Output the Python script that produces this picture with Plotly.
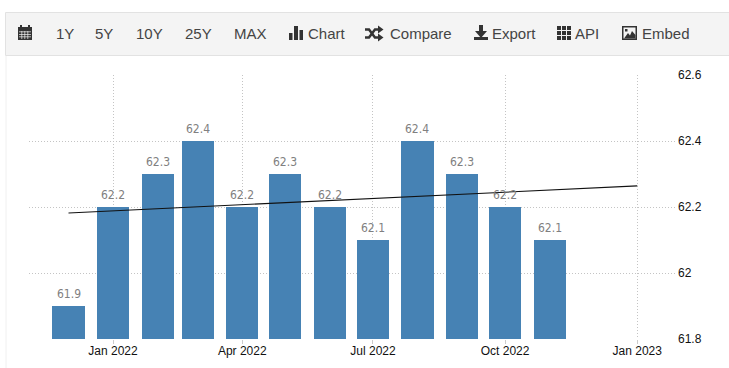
import plotly.graph_objects as go

W, H = 729, 368

months = ["2021-12-01", "2022-01-01", "2022-02-01", "2022-03-01", "2022-04-01", "2022-05-01",
          "2022-06-01", "2022-07-01", "2022-08-01", "2022-09-01", "2022-10-01", "2022-11-01"]
values = [61.9, 62.2, 62.3, 62.4, 62.2, 62.3, 62.2, 62.1, 62.4, 62.3, 62.2, 62.1]
value_labels = ["61.9", "62.2", "62.3", "62.4", "62.2", "62.3", "62.2", "62.1", "62.4", "62.3", "62.2", "62.1"]

trend_dates = ["2021-12-01", "2023-01-01"]
trend_values = [62.182, 62.264]

x_ticks = ["2022-01-01", "2022-04-01", "2022-07-01", "2022-10-01", "2023-01-01"]
x_tick_labels = ["Jan 2022", "Apr 2022", "Jul 2022", "Oct 2022", "Jan 2023"]
y_ticks = [61.8, 62, 62.2, 62.4, 62.6]
y_tick_labels = ["61.8", "62", "62.2", "62.4", "62.6"]

toolbar_labels = ["1Y", "5Y", "10Y", "25Y", "MAX", "Chart", "Compare", "Export", "API", "Embed"]
toolbar_x = [54, 93, 134, 182.5, 231.5, 306, 388, 490, 573, 640]

BAR_DAY_WIDTH_MS = 22.3 * 86400000

fig = go.Figure()
fig.add_bar(x=months, y=values, width=BAR_DAY_WIDTH_MS, marker=dict(color="#4682b4", line=dict(width=0)), showlegend=False)
fig.add_scatter(x=trend_dates, y=trend_values, mode="lines", line=dict(color="#111111", width=1.1), showlegend=False)

shapes = []
L, R, T, B = 29, 676, 75, 339
PW = R - L
PH = B - T

def xp(x):
    return (x - L) / PW

def yp(y):
    return (B - y) / PH

def rect(x0, y0, x1, y1, fill, line=None, layer="above"):
    shapes.append(dict(type="rect", xref="paper", yref="paper", x0=xp(x0), x1=xp(x1), y0=yp(y1), y1=yp(y0),
                       fillcolor=fill, line=dict(width=1 if line else 0, color=line or fill), layer=layer))

def path(points, color, width=2, fill=None):
    d = "M " + " L ".join(f"{xp(a):.5f},{yp(b):.5f}" for a, b in points)
    if fill:
        d += " Z"
    shapes.append(dict(type="path", xref="paper", yref="paper", path=d, fillcolor=fill,
                       line=dict(color=color, width=width), layer="above"))

ICON = "#333333"
BG = "#f4f4f4"
# toolbar background and chart frame
rect(5.5, 12.5, 730, 55.5, BG, "#e2e2e2")
shapes.append(dict(type="line", xref="paper", yref="paper", x0=xp(6), x1=xp(6), y0=yp(368), y1=yp(56),
                   line=dict(color="#f0f0f0", width=1)))
# calendar
rect(18, 27, 32, 40, ICON)
rect(20, 25, 22, 28, ICON)
rect(28, 25, 30, 28, ICON)
for yy in (31.5, 34, 36.5):
    rect(19, yy, 31, yy + 0.7, BG)
for xx in (21.5, 24.5, 27.5):
    rect(xx, 31, xx + 0.7, 39, BG)
# bar chart
rect(289, 33, 292.5, 40, ICON)
rect(294, 26, 298, 40, ICON)
rect(299.5, 30, 303, 40, ICON)
# shuffle
path([(365, 29.5), (369, 29.5), (375, 37.5), (379, 37.5)], ICON, 2.5)
path([(365, 37.5), (369, 37.5), (375, 29.5), (379, 29.5)], ICON, 2.5)
path([(378, 25.5), (383.5, 29.5), (378, 33.5)], ICON, 0, ICON)
path([(378, 33.5), (383.5, 37.5), (378, 41.5)], ICON, 0, ICON)
# export
rect(479, 25, 483, 32, ICON)
path([(475, 31), (487, 31), (481, 38)], ICON, 0, ICON)
rect(474, 37, 488, 40, ICON)
# API grid
for xx in (557, 562, 567):
    for yy in (26, 31, 36):
        rect(xx, yy, xx + 4, yy + 4, ICON)
# embed (image)
rect(622, 26, 637, 40, ICON)
rect(623.5, 27.5, 635.5, 38.5, BG)
path([(624, 38.5), (628, 33), (630, 35.5), (632, 31), (635.5, 35), (635.5, 38.5)], ICON, 0, ICON)
rect(625, 29, 627.5, 31.5, ICON)

annotations = []
for lab, x in zip(toolbar_labels, toolbar_x):
    annotations.append(dict(text=lab, xref="paper", yref="paper", x=xp(x), y=yp(33.5), xanchor="left", yanchor="middle",
                            showarrow=False, font=dict(family="Liberation Sans", size=15, color="#444444")))
for m, v, lab in zip(months, values, value_labels):
    annotations.append(dict(text=lab, x=m, y=v, xref="x", yref="y", yanchor="middle", xanchor="center", yshift=12.5,
                            showarrow=False, font=dict(family="DejaVu Sans Condensed", size=12, color="#808080")))

fig.update_layout(
    width=W, height=H, autosize=False, paper_bgcolor="white", plot_bgcolor="white",
    margin=dict(l=L, r=W - R, t=T, b=H - B), bargap=0, showlegend=False,
    shapes=shapes, annotations=annotations,
    xaxis=dict(type="date", range=["2021-11-03 12:00", "2023-01-28"], tickmode="array", tickvals=x_ticks, ticktext=x_tick_labels,
               showgrid=True, gridcolor="#c4c4c4", griddash="1px,2px", gridwidth=1, zeroline=False, showline=False, automargin=False,
               ticks="outside", ticklen=4, tickcolor="#cccccc", ticklabelstandoff=-3,
               tickfont=dict(family="Liberation Sans", size=12, color="#111111")),
    yaxis=dict(side="right", range=[61.8, 62.6], tickmode="array", tickvals=y_ticks, ticktext=y_tick_labels,
               showgrid=True, gridcolor="#c4c4c4", griddash="1px,2px", gridwidth=1, zeroline=False, showline=False, automargin=False,
               ticks="", ticklabelstandoff=1, tickfont=dict(family="Liberation Sans", size=12, color="#111111")),
)

fig.write_html("out.html", config=dict(displayModeBar=False), post_script="document.body.style.margin='0';")
